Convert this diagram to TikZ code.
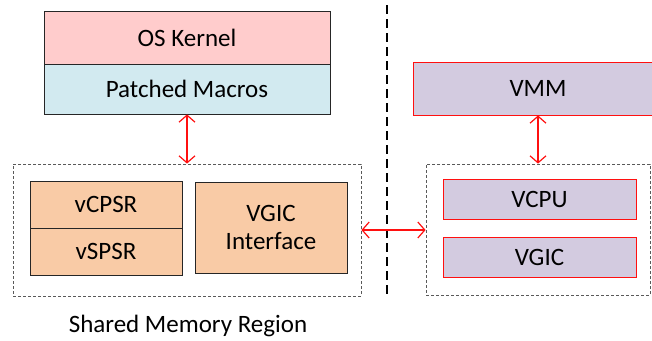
\documentclass[tikz,border=0pt]{standalone}
\usepackage{fontspec}
\setmainfont{Carlito}
\usetikzlibrary{arrows.meta}
\definecolor{KernelPink}{HTML}{FFCCCC}
\definecolor{MacroBlue}{HTML}{D2EAF0}
\definecolor{RegOrange}{HTML}{F9CBA6}
\definecolor{VmmPurple}{HTML}{D3CBE0}
\definecolor{LinkRed}{HTML}{FF1010}

\begin{document}
\begin{tikzpicture}[x=1pt,y=-1pt,font=\fontsize{25}{29}\selectfont,
  box/.style={draw,inner sep=0pt,line width=0.8pt,align=center},
  guestbox/.style={box,draw=black!85},
  hostbox/.style={box,draw=LinkRed,fill=VmmPurple},
  region/.style={draw=black!65,line width=0.8pt,dash pattern=on 3pt off 2pt,inner sep=0pt},
  link/.style={draw=LinkRed,line width=1.2pt,{Straight Barb[length=7pt,width=16pt]}-{Straight Barb[length=7pt,width=16pt]}}]
  \useasboundingbox (0,0) rectangle (652,340);
  % guest side
  \node[guestbox,fill=KernelPink,minimum width=286pt,minimum height=53pt] (kernel) at (187,37.5) {OS Kernel};
  \node[guestbox,fill=MacroBlue,minimum width=286pt,minimum height=50pt] (macros) at (187,89) {Patched Macros};
  \node[region,minimum width=348pt,minimum height=132pt] (shared) at (187,230) {};
  \node[guestbox,fill=RegOrange,minimum width=152pt,minimum height=47pt] (vcpsr) at (106,204.5) {vCPSR};
  \node[guestbox,fill=RegOrange,minimum width=152pt,minimum height=47pt] (vspsr) at (106,251.5) {vSPSR};
  \node[guestbox,fill=RegOrange,minimum width=152pt,minimum height=91pt] (vgicif) at (271,227.5) {VGIC\\[-1pt]Interface};
  \node (sharedlbl) at (188,326) {Shared Memory Region};
  % host side
  \node[hostbox,minimum width=250pt,minimum height=53pt] (vmm) at (538,88.5) {VMM};
  \node[region,minimum width=224pt,minimum height=131pt] (hostregion) at (538,229.5) {};
  \node[hostbox,minimum width=193pt,minimum height=40pt] (vcpu) at (539.5,199) {VCPU};
  \node[hostbox,minimum width=193pt,minimum height=40pt] (vgic) at (539.5,257) {VGIC};
  % divider
  \coordinate (divtop) at (387,5);
  \coordinate (divbot) at (387,298);
  \draw[line width=1.4pt,dash pattern=on 9pt off 5pt] (divtop) -- (divbot);
  % links
  \draw[link] (macros.south) -- (shared.north);
  \draw[link] (vmm.south) -- (hostregion.north);
  \draw[link] (shared.east) -- (shared.east -| hostregion.west);
\end{tikzpicture}
\end{document}
